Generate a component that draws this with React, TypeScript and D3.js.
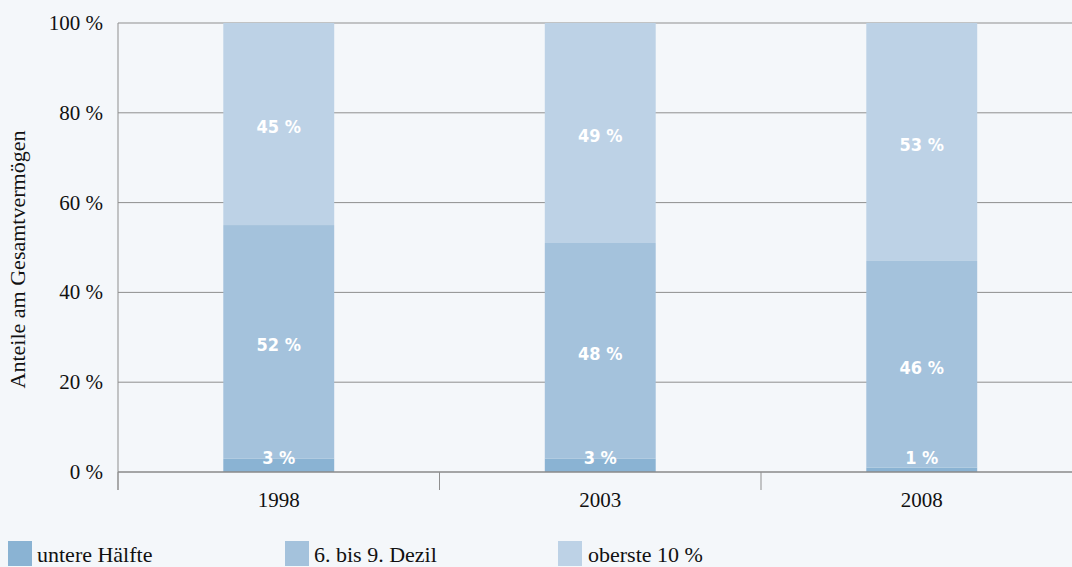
import React from "react";
import * as d3 from "d3";

const years = ["1998", "2003", "2008"];
const untere = [3, 3, 1];
const dezil = [52, 48, 46];
const oberste = [45, 49, 53];
const yTicks = [0, 20, 40, 60, 80, 100];
const seriesNames = ["untere Hälfte", "6. bis 9. Dezil", "oberste 10 %"];
const colors = ["#8ab3d3", "#a4c2dc", "#bdd2e6"];

const W = 1072;
const H = 567;
const left = 118;
const top = 23;
const bottom = 472;

export default function App() {
  const x = d3
    .scaleBand()
    .domain(years)
    .range([left, left + 3 * 321.5])
    .paddingInner(0.655)
    .paddingOuter(0.3275);
  const y = d3.scaleLinear().domain([0, 100]).range([bottom, top]);

  const rows = years.map((yr, i) => ({
    year: yr,
    u: untere[i],
    d: dezil[i],
    o: oberste[i],
  }));
  const stack = d3.stack().keys(["u", "d", "o"])(rows as any);

  const serif = "'Liberation Serif', 'Times New Roman', serif";
  const cond = "'DejaVu Sans Condensed', 'DejaVu Sans', sans-serif";

  return (
    <svg width={W} height={H} style={{ position: "absolute", left: 0, top: 0, background: "#f4f7fa" }}>
      <rect x={0} y={0} width={W} height={H} fill="#f4f7fa" />
      {yTicks.map((t) => (
        <g key={t}>
          {t > 0 && (
            <line x1={left} x2={W} y1={y(t)} y2={y(t)} stroke="#8f8f8f" strokeWidth={1} />
          )}
          <text
            x={103}
            y={y(t)}
            dy="0.33em"
            textAnchor="end"
            fontFamily={serif}
            fontSize={21}
            fill="#111"
          >
            {t} %
          </text>
        </g>
      ))}
      <line x1={left} x2={left} y1={top} y2={490} stroke="#8f8f8f" strokeWidth={1} />
      {stack.map((s, si) =>
        s.map((seg, i) => (
          <rect
            key={si + "-" + i}
            x={x(years[i])}
            width={x.bandwidth()}
            y={y(seg[1])}
            height={y(seg[0]) - y(seg[1])}
            fill={colors[si]}
          />
        ))
      )}
      {stack.map((s, si) =>
        s.map((seg, i) => {
          const v = seg[1] - seg[0];
          const cy = Math.min((y(seg[0]) + y(seg[1])) / 2 + 3, bottom - 14);
          return (
            <text
              key={"l" + si + "-" + i}
              x={(x(years[i]) as number) + x.bandwidth() / 2}
              y={cy}
              dy="0.35em"
              textAnchor="middle"
              fontFamily={cond}
              fontWeight="bold"
              fontSize={18}
              fill="#ffffff"
            >
              {v} %
            </text>
          );
        })
      )}
      <line x1={left} x2={W} y1={bottom} y2={bottom} stroke="#8a8a8a" strokeWidth={1.5} />
      {years.map((yr) => (
        <g key={yr}>
          <line
            x1={(x(yr) as number) - x.step() * 0.3275}
            x2={(x(yr) as number) - x.step() * 0.3275}
            y1={bottom}
            y2={490}
            stroke="#8f8f8f"
          />
          <text
            x={(x(yr) as number) + x.bandwidth() / 2}
            y={507}
            textAnchor="middle"
            fontFamily={serif}
            fontSize={21}
            fill="#111"
          >
            {yr}
          </text>
        </g>
      ))}
      <text
        transform={`translate(25, ${(top + bottom) / 2 + 12}) rotate(-90)`}
        textAnchor="middle"
        fontFamily={serif}
        fontSize={22}
        fill="#111"
      >
        Anteile am Gesamtvermögen
      </text>
      {seriesNames.map((n, i) => {
        const lx = [8, 285, 558][i];
        return (
          <g key={n}>
            <rect x={lx} y={541} width={24} height={25} fill={colors[i]} />
            <text x={lx + 29 + (i === 2 ? 1 : 0)} y={562} fontFamily={serif} fontSize={22} fill="#111">
              {n}
            </text>
          </g>
        );
      })}
    </svg>
  );
}
